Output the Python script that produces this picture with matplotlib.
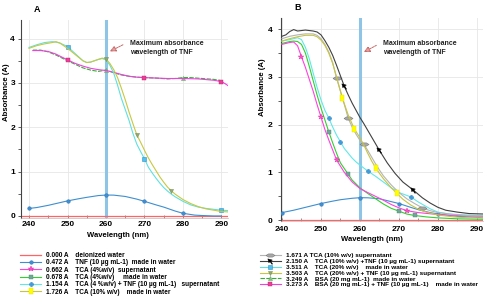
import numpy as np
import matplotlib
matplotlib.use("Agg")
import matplotlib.pyplot as plt
from matplotlib.lines import Line2D
from matplotlib.ticker import MultipleLocator

plt.rcParams['font.family'] = ['Liberation Sans', 'DejaVu Sans']
plt.rcParams['font.weight'] = 'bold'

# ---------------- data: panel A ----------------
a_water_wl = [237, 292]
a_water = [0.0, 0.0]
a_tnf_wl = [240, 242, 245, 248, 250, 253, 255, 258, 260, 262, 265, 268, 270, 273, 275, 278, 280, 283, 285, 288, 290]
a_tnf = [0.17, 0.19, 0.24, 0.30, 0.34, 0.39, 0.42, 0.46, 0.472, 0.47, 0.44, 0.38, 0.33, 0.25, 0.20, 0.11, 0.06, 0.02, 0.01, 0.0, 0.0]
a_tnf_mk = [240, 250, 260, 270, 280]

a_tca20_wl = [240, 242, 244, 246, 247, 248, 249, 250, 252, 254, 255, 256, 258, 259, 260,
              261, 262, 263, 264, 265, 266, 267, 268, 269, 270, 271, 272, 273, 274, 275, 276, 277, 278,
              280, 282, 284, 286, 288, 290, 292]
a_tca20w = [3.80, 3.86, 3.91, 3.93, 3.92, 3.90, 3.86, 3.82, 3.66, 3.50, 3.46, 3.47, 3.53, 3.55, 3.52,
            3.40, 3.22, 2.95, 2.65, 2.40, 2.15, 1.86, 1.62, 1.45, 1.29, 1.10, 0.97, 0.85, 0.74, 0.64, 0.56, 0.49, 0.43,
            0.33, 0.25, 0.20, 0.17, 0.15, 0.13, 0.12]
a_tca20w_mk = [250, 270, 290]
a_tca20tnf = [3.78, 3.84, 3.88, 3.91, 3.93, 3.90, 3.84, 3.78, 3.64, 3.50, 3.46, 3.47, 3.53, 3.56, 3.54,
              3.44, 3.30, 3.12, 2.88, 2.62, 2.34, 2.08, 1.83, 1.66, 1.48, 1.31, 1.16, 1.02, 0.88, 0.76, 0.65, 0.565, 0.49,
              0.37, 0.28, 0.21, 0.16, 0.13, 0.10, 0.09]
a_tca20tnf_mk = [260, 268, 277]

a_bsaw_wl = [241, 243, 245, 247, 250, 252, 254, 256, 258, 260, 261, 262, 264, 266, 268, 270, 273, 276, 278, 280, 282, 285, 288, 290]
a_bsaw = [3.74, 3.74, 3.70, 3.63, 3.50, 3.42, 3.34, 3.29, 3.26, 3.29, 3.26, 3.23, 3.18, 3.15, 3.13, 3.12, 3.11, 3.09, 3.10, 3.12, 3.12, 3.10, 3.08, 3.05]
a_bsaw_mk = [260, 280]
a_bsatnf_wl = [241, 243, 245, 247, 250, 252, 254, 256, 258, 260, 262, 264, 266, 268, 270, 273, 276, 280, 284, 288, 290, 291, 292]
a_bsatnf = [3.73, 3.73, 3.71, 3.65, 3.52, 3.44, 3.38, 3.33, 3.30, 3.28, 3.24, 3.19, 3.15, 3.13, 3.12, 3.11, 3.10, 3.10, 3.09, 3.06, 3.03, 2.98, 2.92]
a_bsatnf_mk = [250, 270, 290]

# ---------------- data: panel B ----------------
b_water_wl = [239, 292]
b_water = [0.0, 0.0]
b_tnf_wl = [240, 243, 245, 248, 250, 253, 255, 258, 260, 262, 265, 268, 270, 273, 275, 278, 280, 283, 285, 288, 290, 292]
b_tnf = [0.16, 0.21, 0.25, 0.31, 0.35, 0.40, 0.43, 0.46, 0.472, 0.47, 0.45, 0.39, 0.35, 0.27, 0.22, 0.16, 0.13, 0.10, 0.08, 0.07, 0.06, 0.05]
b_tnf_mk = [240, 250, 260, 270, 280]

b_tca4sup_wl = [240, 242, 243, 244, 245, 246, 247, 248, 249, 250, 251, 252, 253, 254, 255, 256, 257, 258,
                260, 262, 264, 266, 268, 270, 272, 275, 280, 285, 292]
b_tca4sup = [3.68, 3.72, 3.73, 3.65, 3.42, 3.20, 2.95, 2.70, 2.42, 2.16, 1.90, 1.68, 1.47, 1.26, 1.13, 1.00, 0.90, 0.80,
             0.662, 0.58, 0.50, 0.42, 0.33, 0.26, 0.20, 0.16, 0.12, 0.10, 0.08]
b_tca4sup_mk = [245, 250, 254, 272]

b_tca4w_wl = [240, 242, 243, 244, 245, 246, 247, 248, 249, 250, 251, 252, 253, 254, 255, 257, 258,
              260, 262, 264, 266, 268, 270, 272, 274, 277, 280, 285, 292]
b_tca4w = [3.70, 3.74, 3.75, 3.74, 3.68, 3.50, 3.22, 2.92, 2.62, 2.35, 2.10, 1.85, 1.62, 1.40, 1.20, 0.96, 0.84,
           0.678, 0.56, 0.45, 0.34, 0.25, 0.19, 0.13, 0.10, 0.07, 0.05, 0.03, 0.02]
b_tca4w_mk = [252, 257, 270, 274]

b_tca4tnf_wl = [240, 242, 244, 245, 246, 247, 248, 249, 250, 251, 252, 253, 254, 255, 256, 257, 258, 259,
                260, 262, 264, 266, 268, 270, 273, 275, 278, 280, 283, 287, 292]
b_tca4tnf = [3.75, 3.78, 3.82, 3.78, 3.62, 3.38, 3.08, 2.78, 2.52, 2.30, 2.14, 1.95, 1.78, 1.64, 1.50, 1.40, 1.30, 1.22,
             1.154, 1.03, 0.92, 0.80, 0.68, 0.58, 0.49, 0.38, 0.24, 0.17, 0.13, 0.11, 0.10]
b_tca4tnf_mk = [252, 255, 262, 273]

b_tca10w_wl = [240, 242, 244, 246, 248, 249, 250, 251, 252, 253, 254, 255.5, 257, 258.5,
               260, 261, 262, 263, 264, 265, 266, 268, 269.5, 271, 273, 275, 277, 280, 284, 288, 292]
b_tca10w = [3.75, 3.80, 3.84, 3.87, 3.87, 3.84, 3.77, 3.66, 3.50, 3.28, 3.00, 2.55, 2.20, 1.92,
            1.726, 1.57, 1.40, 1.24, 1.10, 0.98, 0.87, 0.68, 0.56, 0.44, 0.32, 0.23, 0.17, 0.11, 0.07, 0.05, 0.05]
b_tca10w_mk = [255.5, 258.5, 264, 269.5]

b_tca10sup_wl = [240, 242, 244, 246, 248, 249, 250, 251, 252, 253, 254, 255, 256, 257, 258, 259, 260, 261, 262, 263,
                 264, 265, 266, 268, 270, 272, 274, 276, 278, 280, 284, 288, 292]
b_tca10sup = [3.80, 3.85, 3.88, 3.90, 3.90, 3.87, 3.80, 3.68, 3.52, 3.30, 2.97, 2.70, 2.42, 2.13, 1.95, 1.80, 1.671, 1.59,
              1.46, 1.32, 1.18, 1.05, 0.93, 0.74, 0.58, 0.45, 0.35, 0.26, 0.20, 0.16, 0.12, 0.10, 0.09]
b_tca10sup_mk = [254, 257, 261, 276]

b_tca10tnf_wl = [240, 241, 242, 243, 244, 245, 246, 247, 248, 249, 250, 251, 252, 253, 254, 255, 256, 257, 258, 259,
                 260, 261, 262, 263, 265, 267, 269, 271, 273.7, 276, 278, 280, 282, 285, 288, 292]
b_tca10tnf = [3.85, 3.88, 3.95, 3.99, 3.96, 3.97, 3.98, 3.97, 3.96, 3.94, 3.88, 3.76, 3.62, 3.45, 3.24, 3.02, 2.80, 2.62,
              2.45, 2.30, 2.15, 2.02, 1.88, 1.74, 1.46, 1.20, 0.98, 0.80, 0.63, 0.47, 0.36, 0.27, 0.21, 0.17, 0.14, 0.13]
b_tca10tnf_mk = [256, 265, 273.7]

# legend texts
legA_vals = [0.000, 0.472, 0.662, 0.678, 1.154, 1.726]
legA_desc = ["deionized water", "TNF (10 µg mL-1)  made in water", "TCA (4%w/v)  supernatant",
             "TCA (4%w/v)     made in water", "TCA (4 %w/v) + TNF (10 µg mL-1)   supernatant",
             "TCA (10% w/v)    made in water"]
legB_vals = [1.671, 2.150, 3.511, 3.503, 3.249, 3.273]
legB_desc = ["TCA (10% w/v) supernatant", "TCA (10% w/v) +TNF (10 µg mL-1) supernatant",
             "TCA (20% w/v)    made in water", "TCA (20% w/v) + TNF (10 µg mL-1) supernatant",
             "BSA (20 mg mL-1)  made in water", "BSA (20 mg mL-1) + TNF (10 µg mL-1)    made in water"]
legB_gap = [" ", "    ", "    ", "    ", "    ", "    "]

# ---------------- styles ----------------
rect = [(-0.5, -1), (0.5, -1), (0.5, 1), (-0.5, 1), (-0.5, -1)]
grayd = [(-1, 0), (-0.45, 0.35), (0.45, 0.35), (1, 0), (0.45, -0.35), (-0.45, -0.35), (-1, 0)]
flag = [(-1, 1), (0.7, 0.55), (0.15, 0.15), (0.8, -1), (0.45, -1), (-0.15, -0.1), (-0.65, -0.45), (-1, 1)]

S = {
    'water': dict(color='#ff6464', lw=0.9),
    'tnf': dict(color='#3d8fd1', lw=0.8, marker='o', ms=2.6, mfc='#3d8fd1', mec='#2a70b0', mew=0.3),
    'tca4sup': dict(color='#ff40e0', lw=0.8, marker='*', ms=3.8, mfc='#ff50c8', mec='#d030a0', mew=0.3),
    'tca4w': dict(color='#30d030', lw=0.8, marker='s', ms=2.6, mfc='#70a898', mec='#508878', mew=0.3),
    'tca4tnf': dict(color='#60e8e8', lw=0.8, marker='P', ms=3.2, mfc='#3d9be0', mec='#2a80c0', mew=0.3),
    'tca10w': dict(color='#c8c440', lw=0.8, marker=rect, ms=4.8, mfc='#ffff00', mec='#e8e000', mew=0.3),
    'tca10sup': dict(color='#b4b4b4', lw=0.8, marker=grayd, ms=6.5, mfc='#a8a8a8', mec='#7a7a7a', mew=0.4),
    'tca10tnf': dict(color='#404040', lw=0.8, marker=flag, ms=3.8, mfc='black', mec='black', mew=0.3),
    'tca20w': dict(color='#60e0e0', lw=0.8, marker='s', ms=2.8, mfc='#50c0f0', mec='#3090c0', mew=0.4),
    'tca20tnf': dict(color='#c8c840', lw=0.8, marker='v', ms=3.0, mfc='#90a870', mec='#708850', mew=0.3),
    'bsaw': dict(color='#30b030', lw=0.8, ls=(0, (4, 1.2)), marker='^', ms=3.0, mfc='#80c080', mec='#60a060', mew=0.3),
    'bsatnf': dict(color='#f040e0', lw=0.8, marker='s', ms=2.8, mfc='#e84098', mec='#c02070', mew=0.3),
}


def draw(ax, wl, ab, key, mk=None, z=3):
    st = dict(S[key])
    if mk is None:
        st.pop('marker', None)
        ax.plot(wl, ab, zorder=z, **st)
    else:
        idx = [wl.index(m) for m in mk]
        ax.plot(wl, ab, markevery=idx, zorder=z, **st)


def proxy(key):
    st = dict(S[key])
    return Line2D([], [], **st)


fig = plt.figure(figsize=(5.0, 3.07), dpi=100)
axA = fig.add_axes([0.042, 0.29, 0.414, 0.645])
axB = fig.add_axes([0.5614, 0.281, 0.405, 0.66])

for ax in (axA, axB):
    ax.grid(True, which='major', color='#e6e6e6', lw=0.6, zorder=0)
    ax.set_axisbelow(True)
    ax.spines['top'].set_visible(False)
    ax.spines['right'].set_visible(False)
    ax.spines['left'].set_color('#444444')
    ax.spines['left'].set_linewidth(0.8)
    ax.spines['bottom'].set_color('#bbbbbb')
    ax.spines['bottom'].set_linewidth(0.5)
    ax.xaxis.set_major_locator(MultipleLocator(10))
    ax.xaxis.set_minor_locator(MultipleLocator(5))
    ax.yaxis.set_major_locator(MultipleLocator(1))
    ax.yaxis.set_minor_locator(MultipleLocator(0.5))
    ax.tick_params(axis='x', which='both', direction='in', length=2, width=0.5, color='#666666', labelsize=6)
    ax.tick_params(axis='y', which='both', direction='out', length=2.5, width=0.6, color='#444444', labelsize=6)
    ax.axvline(260, color='#8ec5e6', lw=2.2, zorder=1.5)

axA.tick_params(axis='x', pad=2.5)
axA.tick_params(axis='y', pad=1.8)
axB.tick_params(axis='x', pad=3.5)
axB.tick_params(axis='y', pad=3.6)

axA.set_xlim(237.92, 291.69)
axA.set_ylim(-0.045, 4.42)
axB.set_xlim(239.67, 291.6)
axB.set_ylim(-0.01, 4.23)

# panel A curves
draw(axA, a_water_wl, a_water, 'water', z=2.5)
draw(axA, a_tnf_wl, a_tnf, 'tnf', a_tnf_mk)
draw(axA, a_bsaw_wl, a_bsaw, 'bsaw', a_bsaw_mk)
draw(axA, a_bsatnf_wl, a_bsatnf, 'bsatnf', a_bsatnf_mk)
draw(axA, a_tca20_wl, a_tca20w, 'tca20w', a_tca20w_mk)
draw(axA, a_tca20_wl, a_tca20tnf, 'tca20tnf', a_tca20tnf_mk)

# panel B curves
draw(axB, b_water_wl, b_water, 'water', z=2.5)
draw(axB, b_tnf_wl, b_tnf, 'tnf', b_tnf_mk)
draw(axB, b_tca4w_wl, b_tca4w, 'tca4w', b_tca4w_mk)
draw(axB, b_tca4sup_wl, b_tca4sup, 'tca4sup', b_tca4sup_mk)
draw(axB, b_tca4tnf_wl, b_tca4tnf, 'tca4tnf', b_tca4tnf_mk)
draw(axB, b_tca10sup_wl, b_tca10sup, 'tca10sup', b_tca10sup_mk)
draw(axB, b_tca10w_wl, b_tca10w, 'tca10w', b_tca10w_mk)
draw(axB, b_tca10tnf_wl, b_tca10tnf, 'tca10tnf', b_tca10tnf_mk)

# annotations
for ax, txy, tail, head in ((axA, (266.2, 3.97), (264.4, 3.86), (261.0, 3.71)),
                            (axB, (266.0, 3.78), (264.2, 3.66), (261.0, 3.52))):
    ax.text(txy[0], txy[1], "Maximum absorbance\nwavelength of TNF", fontsize=5, fontweight='bold',
            va='top', ha='left', linespacing=1.45, color='#222222')
    ax.annotate('', xy=head, xytext=tail,
                arrowprops=dict(arrowstyle='-|>,head_length=0.45,head_width=0.22', color='#c86a6a', lw=0.7,
                                linestyle=(0, (2, 1)), shrinkA=0, shrinkB=0, mutation_scale=8, fc='#e8a0a0'))

for ax, xl, yl in ((axA, (0.469, -0.071), (-0.053, 0.636)), (axB, (0.449, -0.075), (-0.073, 0.66))):
    ax.set_xlabel("Wavelength (nm)", fontsize=5.5, fontweight='bold')
    ax.set_ylabel("Absorbance (A)", fontsize=5.6, fontweight='bold')
    ax.xaxis.set_label_coords(*xl)
    ax.yaxis.set_label_coords(*yl)

fig.text(37 / 500, 1 - 9 / 307, "A", fontsize=6.5, fontweight='bold', ha='center', va='center')
fig.text(298 / 500, 1 - 7.5 / 307, "B", fontsize=6.5, fontweight='bold', ha='center', va='center')

# legends
keysA = ['water', 'tnf', 'tca4sup', 'tca4w', 'tca4tnf', 'tca10w']
keysB = ['tca10sup', 'tca10tnf', 'tca20w', 'tca20tnf', 'bsaw', 'bsatnf']
labA = [f"{v:.3f} A    {d}" for v, d in zip(legA_vals, legA_desc)]
labB = [f"{v:.3f} A{g}{d}" for v, g, d in zip(legB_vals, legB_gap, legB_desc)]

legA = fig.legend([proxy(k) for k in keysA], labA, loc='upper left', bbox_to_anchor=(20 / 500, 1 - 252 / 307),
                  frameon=False, handlelength=3.25, handletextpad=0.75, labelspacing=0.05,
                  borderpad=0, borderaxespad=0, prop={'weight': 'bold', 'size': 4.7})
legB = fig.legend([proxy(k) for k in keysB], labB, loc='upper left', bbox_to_anchor=(260 / 500, 1 - 253 / 307),
                  frameon=False, handlelength=3.25, handletextpad=0.75, labelspacing=0.05,
                  borderpad=0, borderaxespad=0, prop={'weight': 'bold', 'size': 4.6})

fig.savefig("out.png", dpi=100)
